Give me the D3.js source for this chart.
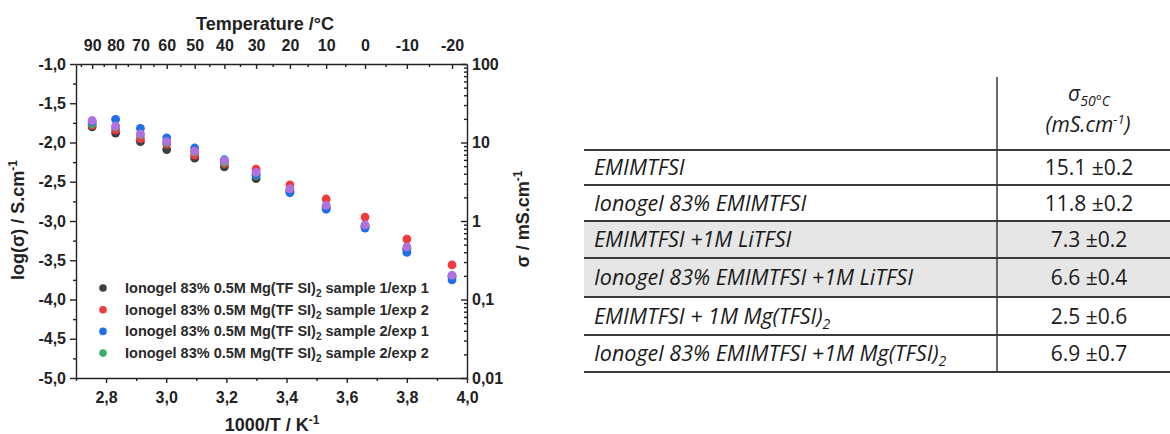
<!DOCTYPE html>
<html>
<head>
<meta charset="utf-8">
<script src="https://cdn.jsdelivr.net/npm/d3@7"></script>
<style>
  html, body { margin: 0; padding: 0; background: #fff; }
  svg { display: block; }
  .ax text { font-family: "Liberation Sans", Arial, sans-serif; font-weight: bold; font-size: 16px; fill: #222; }
  .ax path, .ax line { stroke: #222; stroke-width: 1.4; }
  .ttl { font-family: "Liberation Sans", Arial, sans-serif; font-weight: bold; font-size: 18px; fill: #222; }
  .leg { font-family: "Liberation Sans", Arial, sans-serif; font-weight: bold; font-size: 14.5px; fill: #2a2a2a; }
  .tb { font-family: "Open Sans", Lato, sans-serif; font-size: 21px; fill: #1a1a1a; }
  .tb.nm { font-size: 21.5px; font-style: italic; }
</style>
</head>
<body>
<svg id="chart" width="1170" height="434"></svg>
<script>
// Measurement temperatures (°C) and log(σ / S.cm-1) for each run
const temperaturesC = [90, 80, 70, 60, 50, 40, 30, 20, 10, 0, -10, -20];
const sample1Exp1 = [-1.80, -1.88, -1.99, -2.09, -2.20, -2.31, -2.46, -2.62, -2.83, -3.07, -3.36, -3.71];
const sample1Exp2 = [-1.78, -1.84, -1.95, -2.02, -2.16, -2.27, -2.34, -2.54, -2.72, -2.95, -3.23, -3.56];
const sample2Exp1 = [-1.735, -1.705, -1.82, -1.94, -2.07, -2.22, -2.41, -2.64, -2.85, -3.09, -3.40, -3.75];
const sample2Exp2 = [-1.76, -1.80, -1.90, -2.00, -2.12, -2.25, -2.42, -2.60, -2.82, -3.06, -3.35, -3.70];
const meanRun     = [-1.72, -1.79, -1.89, -1.99, -2.11, -2.23, -2.38, -2.59, -2.80, -3.05, -3.33, -3.69];

const seriesNames = [
  "sample 1/exp 1", "sample 1/exp 2", "sample 2/exp 1", "sample 2/exp 2"
];
const seriesColors = ["#404040", "#ef3b3d", "#1f6fe6", "#3aae64", "#b072e0"];

// Axis tick values
const logTicks = [-5.0, -4.5, -4.0, -3.5, -3.0, -2.5, -2.0, -1.5, -1.0];
const invTicks = [2.8, 3.0, 3.2, 3.4, 3.6, 3.8, 4.0];
const sigmaTicks = [0.01, 0.1, 1, 10, 100];

// Table: conductivity at 50 °C
const tableRows = [
  ["EMIMTFSI", ""],
  ["Ionogel 83% EMIMTFSI", ""],
  ["EMIMTFSI +1M LiTFSI", ""],
  ["Ionogel 83% EMIMTFSI +1M LiTFSI", ""],
  ["EMIMTFSI + 1M Mg(TFSI)", "2"],
  ["Ionogel 83% EMIMTFSI +1M Mg(TFSI)", "2"]
];
const sigma50 = [15.1, 11.8, 7.3, 6.6, 2.5, 6.9];
const sigma50Err = [0.2, 0.2, 0.2, 0.4, 0.6, 0.7];
const shadedRows = [false, false, true, true, false, false];

const svg = d3.select("#chart");
const L = 76, R = 467, T = 64, B = 378;

const toInv = t => 1000 / (t + 273.15);
const x = d3.scaleLinear().domain([2.7, 4.0]).range([L, R]);
const y = d3.scaleLinear().domain([-5, -1]).range([B, T]);
const yR = d3.scaleLog().domain([0.01, 100]).range([B, T]);
const comma = d => d3.format(".1f")(d).replace("−", "-").replace(".", ",");

// ---- axes ----
function minor(g) { g.selectAll("text").remove(); g.select("path").remove(); }

// left
svg.append("g").attr("class", "ax").attr("transform", `translate(${L},0)`)
  .call(d3.axisLeft(y).tickValues(d3.range(-4.75, -1, 0.5)).tickSize(3)).call(minor);
svg.append("g").attr("class", "ax").attr("transform", `translate(${L},0)`)
  .call(d3.axisLeft(y).tickValues(logTicks).tickSize(6).tickSizeOuter(0).tickPadding(4).tickFormat(comma));

// bottom
svg.append("g").attr("class", "ax").attr("transform", `translate(0,${B})`)
  .call(d3.axisBottom(x).tickValues(d3.range(2.7, 4.0, 0.2)).tickSize(3)).call(minor);
svg.append("g").attr("class", "ax").attr("transform", `translate(0,${B})`)
  .call(d3.axisBottom(x).tickValues(invTicks).tickSize(5).tickSizeOuter(0).tickPadding(9).tickFormat(comma));

// top (temperature)
const topMinor = d3.range(95, -25, -10).map(toInv).filter(v => v >= 2.7 && v <= 4.0);
svg.append("g").attr("class", "ax").attr("transform", `translate(0,${T})`)
  .call(d3.axisTop(x).tickValues(topMinor).tickSize(-3)).call(minor);
svg.append("g").attr("class", "ax").attr("transform", `translate(0,${T})`)
  .call(d3.axisTop(x).tickValues(temperaturesC.map(toInv)).tickSizeInner(-5).tickSizeOuter(0).tickPadding(13)
    .tickFormat(d => String(Math.round(1000 / d - 273.15))));

// right (σ in mS/cm, log)
const rMinor = [];
[0.01, 0.1, 1, 10].forEach(dec => { for (let k = 2; k <= 9; k++) rMinor.push(dec * k); });
svg.append("g").attr("class", "ax").attr("transform", `translate(${R},0)`)
  .call(d3.axisRight(yR).tickValues(rMinor).tickSize(-3)).call(minor);
svg.append("g").attr("class", "ax").attr("transform", `translate(${R},0)`)
  .call(d3.axisRight(yR).tickValues(sigmaTicks).tickSizeInner(-6).tickSizeOuter(0).tickPadding(5)
    .tickFormat(d => d < 1 ? String(d).replace(".", ",") : String(d)));

// ---- titles ----
svg.append("text").attr("class", "ttl").attr("x", 265).attr("y", 30).attr("text-anchor", "middle")
  .text("Temperature /°C");
const xt = svg.append("text").attr("class", "ttl").attr("x", 272).attr("y", 431).attr("text-anchor", "middle");
xt.append("tspan").text("1000/T / K");
xt.append("tspan").attr("font-size", "12px").attr("dy", "-7").text("-1");
const ylt = svg.append("text").attr("class", "ttl").attr("text-anchor", "middle")
  .attr("transform", "translate(24,220) rotate(-90)");
ylt.append("tspan").text("log(σ) / S.cm");
ylt.append("tspan").attr("font-size", "12px").attr("dy", "-7").text("-1");
const yrt = svg.append("text").attr("class", "ttl").attr("text-anchor", "middle")
  .attr("transform", "translate(529,219) rotate(-90)");
yrt.append("tspan").text("σ / mS.cm");
yrt.append("tspan").attr("font-size", "12px").attr("dy", "-7").text("-1");

// ---- data points ----
const allSeries = [sample1Exp1, sample1Exp2, sample2Exp2, sample2Exp1, meanRun];
const colorOrder = [0, 1, 3, 2, 4];
allSeries.forEach((vals, si) => {
  svg.append("g").selectAll("circle")
    .data(vals.map((v, i) => ({ t: temperaturesC[i], v })))
    .join("circle")
    .attr("cx", d => x(toInv(d.t)))
    .attr("cy", d => y(d.v))
    .attr("r", 4.4)
    .attr("fill", seriesColors[colorOrder[si]]);
});

// ---- legend ----
const leg = svg.append("g");
seriesNames.forEach((name, i) => {
  const yy = 288 + i * 21.7;
  leg.append("circle").attr("cx", 103).attr("cy", yy).attr("r", 3.8).attr("fill", seriesColors[i]);
  const t = leg.append("text").attr("class", "leg").attr("x", 125).attr("y", yy).attr("dy", "0.35em");
  t.append("tspan").text("Ionogel 83% 0.5M Mg(TF SI)");
  t.append("tspan").attr("font-size", "10px").attr("dy", "4").text("2");
  t.append("tspan").attr("dy", "-4").text(" " + name);
});

// ---- table ----
const tbL = 584, tbR = 1170, colX = 997;
const edges = [150, 185, 221, 258, 297, 335, 372];
const tb = svg.append("g");
tableRows.forEach((r, i) => {
  if (shadedRows[i]) {
    tb.append("rect").attr("x", tbL).attr("y", edges[i]).attr("width", tbR - tbL)
      .attr("height", edges[i + 1] - edges[i]).attr("fill", "#e6e6e6");
  }
});
tb.selectAll("line.h").data(edges).join("line")
  .attr("x1", tbL).attr("x2", tbR).attr("y1", d => d).attr("y2", d => d)
  .attr("stroke", "#3a3a3a").attr("stroke-width", 1.8);
tb.append("line").attr("x1", colX).attr("x2", colX).attr("y1", 77).attr("y2", 372)
  .attr("stroke", "#3a3a3a").attr("stroke-width", 1.5);

tableRows.forEach((r, i) => {
  const cy = (edges[i] + edges[i + 1]) / 2;
  const t = tb.append("text").attr("class", "tb nm").attr("x", 594).attr("y", cy).attr("dy", "0.36em");
  t.append("tspan").text(r[0]);
  if (r[1]) t.append("tspan").attr("font-size", "14px").attr("dy", "5").text(r[1]);
  tb.append("text").attr("class", "tb").attr("x", 1089).attr("y", cy).attr("dy", "0.36em")
    .attr("text-anchor", "middle")
    .text(`${sigma50[i].toFixed(1)} ±${sigma50Err[i].toFixed(1)}`);
});

// header
const h1 = tb.append("text").attr("class", "tb").attr("x", 1089).attr("y", 93).attr("dy", "0.36em")
  .attr("text-anchor", "middle").attr("font-style", "italic");
h1.append("tspan").text("σ");
h1.append("tspan").attr("font-size", "14px").attr("dy", "5").text("50°C");
const h2 = tb.append("text").attr("class", "tb").attr("x", 1088).attr("y", 124).attr("dy", "0.36em")
  .attr("text-anchor", "middle").attr("font-style", "italic");
h2.append("tspan").text("(mS.cm");
h2.append("tspan").attr("font-size", "13px").attr("dy", "-8").text("-1");
h2.append("tspan").attr("dy", "8").text(")");
</script>
</body>
</html>
